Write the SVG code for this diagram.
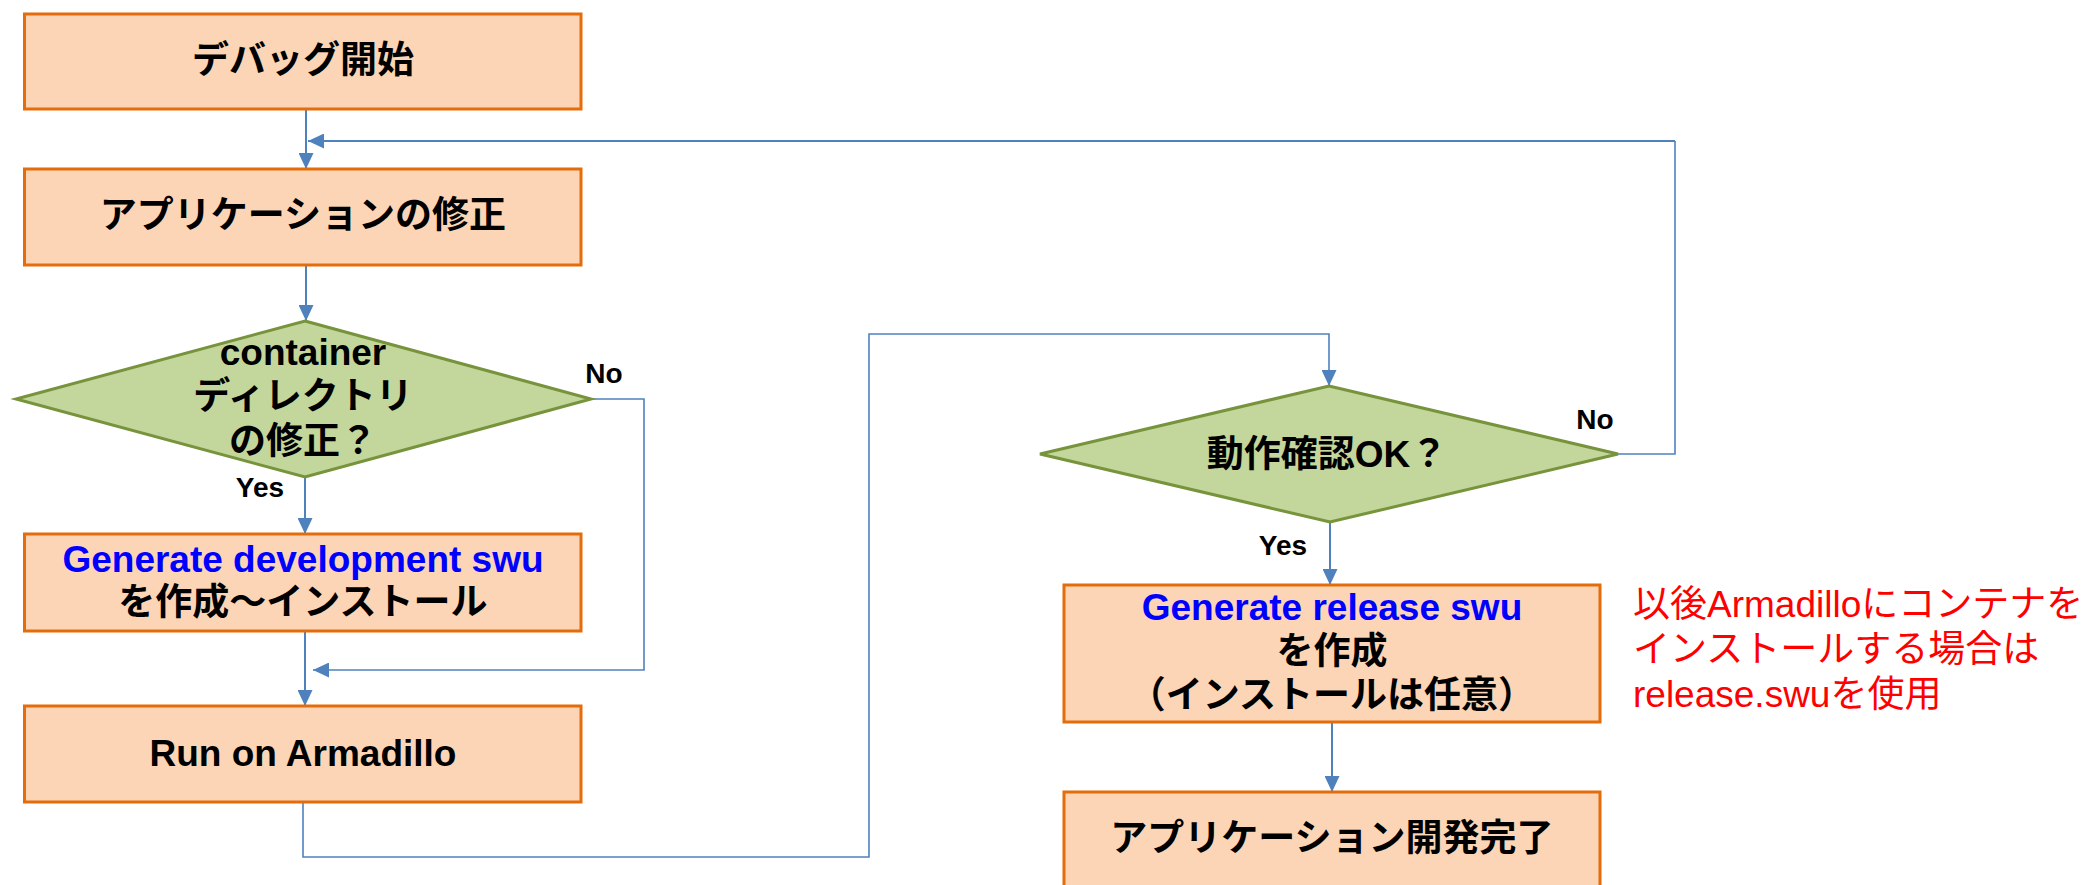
<svg xmlns="http://www.w3.org/2000/svg" width="2097" height="885" viewBox="0 0 2097 885">
<style>
.box{fill:#FBD5B5;stroke:#E46C0A;stroke-width:3}
.dia{fill:#C3D69B;stroke:#77933C;stroke-width:3}
.t{font-family:"Liberation Sans","Noto Sans CJK JP",sans-serif;font-weight:bold;font-size:37px;fill:#000;text-anchor:middle}
.b{fill:#0000FF}
.lbl{font-family:"Liberation Sans","Noto Sans CJK JP",sans-serif;font-weight:bold;font-size:28px;fill:#000;text-anchor:middle}
.note{font-family:"Liberation Sans","Noto Sans CJK JP",sans-serif;font-size:37px;fill:#FF0000}
.c{fill:none;stroke:#4F81BD;stroke-width:2}
.c2{fill:none;stroke:#4F81BD;stroke-width:1.6}
</style>
<defs>
<marker id="arr" markerUnits="userSpaceOnUse" markerWidth="16" markerHeight="15" refX="16" refY="7.5" orient="auto">
<path d="M0,0 L16,7.5 L0,15 z" fill="#4F81BD"/>
</marker>
</defs>
<g id="connectors">
<path class="c" d="M306,109 L306,169" marker-end="url(#arr)"/>
<path class="c" d="M1675,141 L308,141" marker-end="url(#arr)"/>
<path class="c" d="M306,265 L306,321" marker-end="url(#arr)"/>
<path class="c" d="M305,477 L305,534" marker-end="url(#arr)"/>
<path class="c2" d="M591,399 L644,399 L644,670 L313,670" marker-end="url(#arr)"/>
<path class="c" d="M305,631 L305,706" marker-end="url(#arr)"/>
<path class="c2" d="M303,802 L303,857 L869,857 L869,334 L1329,334 L1329,386" marker-end="url(#arr)"/>
<path class="c2" d="M1618,454 L1675,454 L1675,141"/>
<path class="c" d="M1330,522 L1330,585" marker-end="url(#arr)"/>
<path class="c" d="M1332,722 L1332,792" marker-end="url(#arr)"/>
<text class="lbl" x="604" y="383">No</text>
<text class="lbl" x="260" y="497">Yes</text>
<text class="lbl" x="1595" y="429">No</text>
<text class="lbl" x="1283" y="555">Yes</text>
</g>
<g id="start">
<rect class="box" x="24.5" y="14" width="556.5" height="95"/>
<text class="t" x="303" y="73">デバッグ開始</text>
</g>
<g id="modify-app">
<rect class="box" x="24.5" y="169" width="556.5" height="96"/>
<text class="t" x="303" y="228">アプリケーションの修正</text>
</g>
<g id="container-check">
<polygon class="dia" points="305,321 591,399 305,477 16,399"/>
<text class="t" x="303" y="365">container</text>
<text class="t" x="303" y="409">ディレクトリ</text>
<text class="t" x="303" y="454">の修正？</text>
</g>
<g id="gen-dev">
<rect class="box" x="24.5" y="534" width="556.5" height="97"/>
<text class="t" x="303" y="572"><tspan class="b">Generate development swu</tspan></text>
<text class="t" x="303" y="615">を作成～インストール</text>
</g>
<g id="run">
<rect class="box" x="24.5" y="706" width="556.5" height="96"/>
<text class="t" x="303" y="766">Run on Armadillo</text>
</g>
<g id="ok-check">
<polygon class="dia" points="1329,386 1618,454 1330,522 1040,454"/>
<text class="t" x="1327" y="467">動作確認OK？</text>
</g>
<g id="gen-release">
<rect class="box" x="1064" y="585" width="536" height="137"/>
<text class="t" x="1332" y="620"><tspan class="b">Generate release swu</tspan></text>
<text class="t" x="1332" y="664">を作成</text>
<text class="t" x="1332" y="708">（インストールは任意）</text>
</g>
<g id="done">
<rect class="box" x="1064" y="792" width="536" height="130"/>
<text class="t" x="1332" y="851">アプリケーション開発完了</text>
</g>
<g id="note">
<text class="note" x="1633" y="617">以後Armadilloにコンテナを</text>
<text class="note" x="1633" y="662">インストールする場合は</text>
<text class="note" x="1633" y="707">release.swuを使用</text>
</g>
</svg>
